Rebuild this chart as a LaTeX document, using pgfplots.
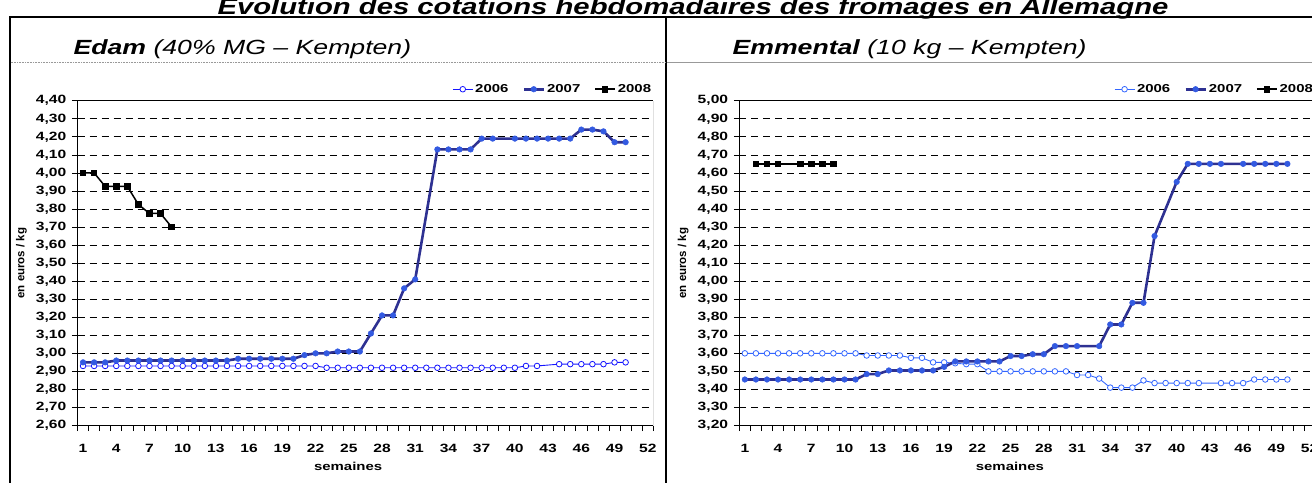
\documentclass[border=0pt]{standalone}
\usepackage{pgfplots}
\pgfplotsset{compat=1.18}
\usepackage{fontspec}
\setmainfont[FakeStretch=1.3]{Liberation Sans}
\newfontfamily\plainsans{Liberation Sans}
\definecolor{cA}{RGB}{20,20,255}
\definecolor{cB}{RGB}{51,102,255}
\definecolor{cSevL}{RGB}{46,49,146}
\definecolor{cSevM}{RGB}{51,90,225}
\newcommand{\tickfont}{\bfseries\fontsize{12}{13}\selectfont}
\newcommand{\legfont}{\bfseries\fontsize{11.5}{13}\selectfont}
\pgfplotsset{
 panel/.style={
  scale only axis, width=575.8pt, height=324.8pt,
  anchor=south west,
  xmin=0.5, xmax=52.5,
  axis lines*=left,
  axis line style={black, line width=1pt},
  tick align=outside,
  major tick length=5.5pt,
  tick style={black, line width=0.6pt},
  xtick={0.5,1.5,...,52.5},
  xticklabels={},
  extra x ticks={1,4,...,52},
  extra x tick labels={1,4,7,10,13,16,19,22,25,28,31,34,37,40,43,46,49,52},
  extra x tick style={major tick length=0pt},
  ymajorgrids,
  grid style={black, dash pattern=on 7pt off 5pt, line width=0.6pt},
  /pgf/number format/assume math mode=true,
  ticklabel style={font=\tickfont},
  xticklabel style={anchor=center, yshift=-23pt},
  yticklabel style={anchor=east, inner sep=0pt, xshift=-5.5pt, /pgf/number format/.cd, fixed, fixed zerofill, precision=2, use comma},
  xlabel={semaines},
  xlabel style={font=\legfont, at={(axis description cs:0.47,-0.126)}, anchor=center},
  ylabel={\plainsans\bfseries\fontsize{11.5}{13}\selectfont en euros / kg},
  ylabel style={at={(axis description cs:-0.0973,0.5)}, anchor=center},
  legend style={at={(axis description cs:1,1)}, anchor=south east, yshift=4.5pt,
    draw=none, fill=none, legend columns=3, font=\legfont, inner sep=0pt,
    /tikz/every even column/.append style={column sep=12pt}},
  legend image code/.code={\draw[mark repeat=2,mark phase=2,##1] plot coordinates {(0pt,0pt) (10pt,0pt) (20pt,0pt)};},
 },
 s06/.style={color=#1, line width=0.9pt, mark=*, mark size=2.8pt, mark options={fill=white, draw=#1, line width=0.8pt, solid}},
 s07/.style={color=cSevL, line width=2.6pt, mark=*, mark size=2.8pt, mark options={fill=cSevM, draw=cSevM, line width=0.5pt, solid}},
 s08/.style={color=black, line width=1.5pt, mark=square*, mark size=2.6pt, mark options={solid}},
}
\begin{document}
\begin{tikzpicture}[x=1pt,y=1pt]
\useasboundingbox (0,0) rectangle (1312,482);
\node[anchor=base, font=\bfseries\itshape\fontsize{22.5}{26}\selectfont] at (693,467.5) {Évolution des cotations hebdomadaires des fromages en Allemagne};
\draw[line width=2pt] (9.5,-5) -- (9.5,464.5) -- (1320,464.5);
\draw[line width=2pt] (666,-5) -- (666,464.5);
\draw[gray!80, line width=0.8pt, dash pattern=on 1pt off 0.6pt] (10.5,420) -- (665,420);
\draw[gray!80, line width=0.8pt] (667,420) -- (1312,420);
\node[anchor=base west, font=\itshape\fontsize{20.5}{23}\selectfont] at (70,427) {\textbf{Edam} (40\% MG – Kempten)};
\node[anchor=base west, font=\itshape\fontsize{20.5}{23}\selectfont] at (729,427) {\textbf{Emmental} (10 kg – Kempten)};

% ---------------- Edam ----------------
\begin{axis}[panel, at={(77.5pt,56.5pt)}, ymin=2.6, ymax=4.4,
  ytick={2.6,2.7,2.8,2.9,3.0,3.1,3.2,3.3,3.4,3.5,3.6,3.7,3.8,3.9,4.0,4.1,4.2,4.3,4.4}]
\addplot[s06=cA] coordinates {
(1,2.93)(2,2.93)(3,2.93)(4,2.93)(5,2.93)(6,2.93)(7,2.93)(8,2.93)(9,2.93)(10,2.93)
(11,2.93)(12,2.93)(13,2.93)(14,2.93)(15,2.93)(16,2.93)(17,2.93)(18,2.93)(19,2.93)(20,2.93)
(21,2.93)(22,2.93)(23,2.92)(24,2.92)(25,2.92)(26,2.92)(27,2.92)(28,2.92)(29,2.92)(30,2.92)
(31,2.92)(32,2.92)(33,2.92)(34,2.92)(35,2.92)(36,2.92)(37,2.92)(38,2.92)(39,2.92)(40,2.92)
(41,2.93)(42,2.93)(44,2.94)(45,2.94)(46,2.94)(47,2.94)(48,2.94)(49,2.95)(50,2.95)};
\addlegendentry{2006}
\addplot[s07] coordinates {
(1,2.95)(2,2.95)(3,2.95)(4,2.96)(5,2.96)(6,2.96)(7,2.96)(8,2.96)(9,2.96)(10,2.96)
(11,2.96)(12,2.96)(13,2.96)(14,2.96)(15,2.97)(16,2.97)(17,2.97)(18,2.97)(19,2.97)(20,2.97)
(21,2.99)(22,3.00)(23,3.00)(24,3.01)(25,3.01)(26,3.01)(27,3.11)(28,3.21)(29,3.21)(30,3.36)
(31,3.41)(33,4.13)(34,4.13)(35,4.13)(36,4.13)(37,4.19)(38,4.19)(40,4.19)
(41,4.19)(42,4.19)(43,4.19)(44,4.19)(45,4.19)(46,4.24)(47,4.24)(48,4.23)(49,4.17)(50,4.17)};
\addlegendentry{2007}
\addplot[s08] coordinates {
(1,4.00)(2,4.00)(3,3.925)(4,3.925)(5,3.925)(6,3.825)(7,3.775)(8,3.775)(9,3.70)};
\addlegendentry{2008}
\draw[black, line width=1pt] (rel axis cs:0,1) -- (rel axis cs:1,1);
\draw[gray!70, line width=0.8pt] (rel axis cs:1,0) -- (rel axis cs:1,1);
\end{axis}

% ---------------- Emmental ----------------
\begin{axis}[panel, at={(739.3pt,56.5pt)}, ymin=3.2, ymax=5.0,
  ytick={3.2,3.3,3.4,3.5,3.6,3.7,3.8,3.9,4.0,4.1,4.2,4.3,4.4,4.5,4.6,4.7,4.8,4.9,5.0}]
\addplot[s06=cB] coordinates {
(1,3.60)(2,3.60)(3,3.60)(4,3.60)(5,3.60)(6,3.60)(7,3.60)(8,3.60)(9,3.60)(10,3.60)
(11,3.60)(12,3.588)(13,3.588)(14,3.588)(15,3.588)(16,3.575)(17,3.575)(18,3.55)(19,3.55)(20,3.545)
(21,3.54)(22,3.54)(23,3.50)(24,3.50)(25,3.50)(26,3.50)(27,3.50)(28,3.50)(29,3.50)(30,3.50)
(31,3.48)(32,3.48)(33,3.46)(34,3.41)(35,3.41)(36,3.41)(37,3.45)(38,3.435)(39,3.435)(40,3.435)
(41,3.435)(42,3.435)(44,3.435)(45,3.435)(46,3.435)(47,3.455)(48,3.455)(49,3.455)(50,3.455)};
\addlegendentry{2006}
\addplot[s07] coordinates {
(1,3.455)(2,3.455)(3,3.455)(4,3.455)(5,3.455)(6,3.455)(7,3.455)(8,3.455)(9,3.455)(10,3.455)
(11,3.455)(12,3.485)(13,3.485)(14,3.505)(15,3.505)(16,3.505)(17,3.505)(18,3.505)(19,3.525)(20,3.555)
(21,3.555)(22,3.555)(23,3.555)(24,3.555)(25,3.585)(26,3.585)(27,3.595)(28,3.595)(29,3.64)(30,3.64)
(31,3.64)(33,3.64)(34,3.76)(35,3.76)(36,3.88)(37,3.88)(38,4.25)(40,4.55)
(41,4.65)(42,4.65)(43,4.65)(44,4.65)(46,4.65)(47,4.65)(48,4.65)(49,4.65)(50,4.65)};
\addlegendentry{2007}
\addplot[s08] coordinates {
(2,4.65)(3,4.65)(4,4.65)(6,4.65)(7,4.65)(8,4.65)(9,4.65)};
\addlegendentry{2008}
\draw[black, line width=1pt] (rel axis cs:0,1) -- (rel axis cs:1,1);
\end{axis}
\end{tikzpicture}
\end{document}
